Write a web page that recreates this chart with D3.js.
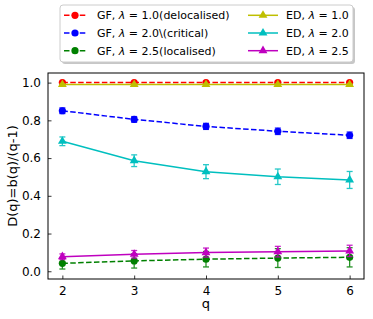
<!DOCTYPE html>
<html>
<head>
<meta charset="utf-8">
<script src="https://cdn.jsdelivr.net/npm/d3@7"></script>
<style>
  body { margin: 0; background: #fff; }
  text { font-family: "DejaVu Sans", sans-serif; }
</style>
</head>
<body>
<script>
// data
var qs = [2, 3, 4, 5, 6];

var gf10 = [1.0, 1.0, 1.0, 1.0, 1.0];
var gf10Err = [0.004, 0.004, 0.004, 0.004, 0.004];
var gf20 = [0.851, 0.805, 0.768, 0.742, 0.721];
var gf20Err = [0.015, 0.015, 0.016, 0.017, 0.017];
var gf25 = [0.042, 0.055, 0.064, 0.070, 0.074];
var gf25Err = [0.030, 0.038, 0.041, 0.050, 0.051];

var ed10 = [0.99, 0.99, 0.99, 0.99, 0.99];
var ed10Err = [0.003, 0.003, 0.003, 0.003, 0.003];
var ed20 = [0.689, 0.586, 0.528, 0.501, 0.484];
var ed20Err = [0.023, 0.031, 0.037, 0.041, 0.045];
var ed25 = [0.077, 0.090, 0.099, 0.104, 0.108];
var ed25Err = [0.015, 0.020, 0.024, 0.028, 0.030];

var labels = [
  ["GF, ", "1.0(delocalised)"],
  ["GF, ", "2.0\\(critical)"],
  ["GF, ", "2.5(localised)"],
  ["ED, ", "1.0"],
  ["ED, ", "2.0"],
  ["ED, ", "2.5"]
];
var yTicks = [0.0, 0.2, 0.4, 0.6, 0.8, 1.0];

var series = [
  { vals: gf10, err: gf10Err, color: "#ff0000", dash: true, marker: "circle" },
  { vals: gf20, err: gf20Err, color: "#0000ff", dash: true, marker: "circle" },
  { vals: gf25, err: gf25Err, color: "#008000", dash: true, marker: "circle" },
  { vals: ed10, err: ed10Err, color: "#bfbf00", dash: false, marker: "triangle" },
  { vals: ed20, err: ed20Err, color: "#00bfbf", dash: false, marker: "triangle" },
  { vals: ed25, err: ed25Err, color: "#bf00bf", dash: false, marker: "triangle" }
];

var W = 373, H = 319;
var margin = { top: 73, right: 9, bottom: 40, left: 48 },
  width = W - margin.left - margin.right,
  height = H - margin.top - margin.bottom;

var x = d3.scaleLinear().domain([1.8, 6.2]).range([0, width]);
var y = d3.scaleLinear().domain([-0.041, 1.051]).range([height, 0]);

var svg = d3.select("body").append("svg")
  .attr("width", W).attr("height", H);

var g = svg.append("g")
  .attr("transform", "translate(" + margin.left + "," + margin.top + ")");

var line = d3.line()
  .x(function (d) { return x(d.q); })
  .y(function (d) { return y(d.v); });

var triangle = d3.symbol().type(d3.symbolTriangle).size(34);

function drawMarker(sel, type, color) {
  if (type === "circle") {
    sel.append("circle").attr("r", 3.6).attr("fill", color);
  } else {
    sel.append("path").attr("d", triangle).attr("fill", color);
  }
}

series.forEach(function (s) {
  var pts = qs.map(function (q, i) { return { q: q, v: s.vals[i], e: s.err[i] }; });
  var sg = g.append("g");

  sg.append("path")
    .datum(pts)
    .attr("d", line)
    .attr("fill", "none")
    .attr("stroke", s.color)
    .attr("stroke-width", 1.5)
    .attr("stroke-dasharray", s.dash ? "5.5,2.4" : null);

  // error bars
  var eb = sg.selectAll(".eb").data(pts).enter().append("g")
    .attr("stroke", s.color)
    .attr("stroke-width", 1.3)
    .attr("opacity", 0.85);
  eb.append("line")
    .attr("x1", function (d) { return x(d.q); })
    .attr("x2", function (d) { return x(d.q); })
    .attr("y1", function (d) { return y(d.v - d.e); })
    .attr("y2", function (d) { return y(d.v + d.e); });
  [-1, 1].forEach(function (sgn) {
    eb.append("line")
      .attr("x1", function (d) { return x(d.q) - 3; })
      .attr("x2", function (d) { return x(d.q) + 3; })
      .attr("y1", function (d) { return y(d.v + sgn * d.e); })
      .attr("y2", function (d) { return y(d.v + sgn * d.e); });
  });

  sg.selectAll(".mk").data(pts).enter().append("g")
    .attr("transform", function (d) { return "translate(" + x(d.q) + "," + y(d.v) + ")"; })
    .each(function () { drawMarker(d3.select(this), s.marker, s.color); });
});

// axes, ticks inward
var xAxis = g.append("g")
  .attr("transform", "translate(0," + height + ")")
  .call(d3.axisBottom(x).tickValues(qs).tickSizeInner(-3.5).tickSizeOuter(0).tickPadding(7).tickFormat(d3.format("d")));
var yAxis = g.append("g")
  .call(d3.axisLeft(y).tickValues(yTicks).tickSizeInner(-3.5).tickSizeOuter(0).tickPadding(7).tickFormat(d3.format(".1f")));

[xAxis, yAxis].forEach(function (a) {
  a.select(".domain").remove();
  a.selectAll("text").attr("font-size", 12).attr("font-family", "DejaVu Sans").attr("fill", "#000");
  a.selectAll("line").attr("stroke", "#000").attr("stroke-width", 0.8);
});

g.append("rect")
  .attr("width", width).attr("height", height)
  .attr("fill", "none").attr("stroke", "#000").attr("stroke-width", 1);

svg.append("text")
  .attr("x", margin.left + x(4)).attr("y", 308)
  .attr("text-anchor", "middle").attr("font-size", 13).text("q");

svg.append("text")
  .attr("transform", "translate(17," + (margin.top + height / 2) + ") rotate(-90)")
  .attr("text-anchor", "middle").attr("font-size", 13).text("D(q)=b(q)/(q-1)");

// legend
var leg = svg.append("g");
leg.append("rect")
  .attr("x", 62).attr("y", 7).attr("width", 293).attr("height", 57)
  .attr("rx", 3).attr("fill", "#999").attr("opacity", 0.55);
leg.append("rect")
  .attr("x", 60).attr("y", 5).attr("width", 293).attr("height", 57)
  .attr("rx", 3).attr("fill", "#fff").attr("stroke", "#ccc").attr("stroke-width", 1);

var rowY = [15.3, 33, 50.7];
series.forEach(function (s, i) {
  var col = i < 3 ? 0 : 1, row = i % 3;
  var hx0 = col === 0 ? 64 : 248, hx1 = col === 0 ? 86 : 278, tx = col === 0 ? 97 : 286;
  var yy = rowY[row];
  leg.append("line")
    .attr("x1", hx0).attr("x2", hx1).attr("y1", yy).attr("y2", yy)
    .attr("stroke", s.color).attr("stroke-width", 1.5)
    .attr("stroke-dasharray", s.dash ? "5.5,2.4" : null);
  var mg = leg.append("g").attr("transform", "translate(" + (hx0 + hx1) / 2 + "," + yy + ")");
  drawMarker(mg, s.marker, s.color);
  var t = leg.append("text").attr("x", tx).attr("y", yy + 4).attr("font-size", 11);
  t.append("tspan").text(labels[i][0]);
  t.append("tspan").attr("font-style", "italic").text("\u03bb");
  t.append("tspan").text(" = ");
  t.append("tspan").text(labels[i][1]);
});
</script>
</body>
</html>
